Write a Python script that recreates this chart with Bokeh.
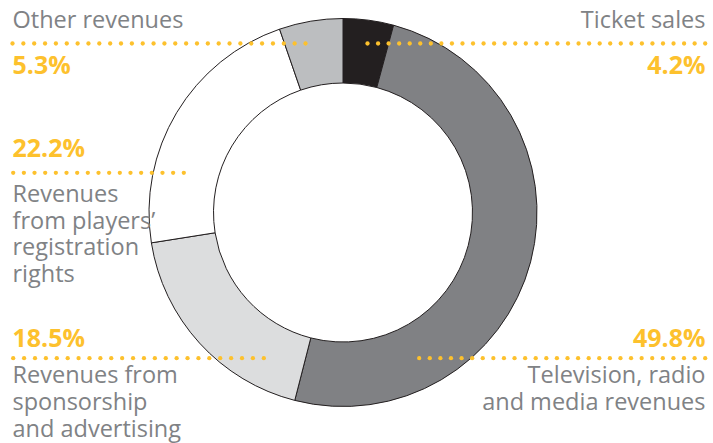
import numpy as np
from bokeh.plotting import figure
from bokeh.models import Range1d, ColumnDataSource
from bokeh.core.properties import value
from bokeh.embed import file_html
from bokeh.resources import INLINE

# ---- data (clockwise from 12 o'clock) ----
categories = ["Ticket sales", "Television, radio and media revenues",
              "Revenues from sponsorship and advertising",
              "Revenues from players' registration rights", "Other revenues"]
shares = [4.2, 49.8, 18.5, 22.2, 5.3]
colors = ["#231f20", "#808184", "#dcddde", "#ffffff", "#bcbec0"]
label_lines = [["Ticket sales"],
               ["Television, radio", "and media revenues"],
               ["Revenues from", "sponsorship", "and advertising"],
               ["Revenues", "from players\u2019", "registration", "rights"],
               ["Other revenues"]]

W, H = 713, 443
def X(px): return px
def Y(py): return H - py

GREY = "#808285"
YEL = "#fdc12d"
FONT = "Open Sans"
LBL_SIZE, PCT_SIZE = 23.5, 25

p = figure(width=W, height=H, output_backend="svg", toolbar_location=None,
           x_axis_type=None, y_axis_type=None, min_border=0,
           x_range=Range1d(0, W), y_range=Range1d(0, H))
p.outline_line_color = None
p.grid.visible = False
p.background_fill_color = "white"

# donut
frac = np.array(shares) / sum(shares)
cum = np.concatenate([[0], np.cumsum(frac)])
start = np.pi / 2 - cum[:-1] * 2 * np.pi
end = np.pi / 2 - cum[1:] * 2 * np.pi
src = ColumnDataSource(dict(start=start, end=end, color=colors))
cx, cy = X(342.5), Y(212)
p.annular_wedge(x=cx, y=cy, inner_radius=129.5, outer_radius=194,
                start_angle="start", end_angle="end", direction="clock",
                fill_color="color", line_color="#231f20", line_width=1, source=src)

# leader dotted lines: (x0, x1, y, n_dots) in page px
leaders = [(367, 704.7, 43, 33),      # ticket
           (418.7, 704.7, 357.7, 28),  # tv
           (12.7, 263.3, 357.7, 24),   # sponsorship
           (12.7, 183.3, 172.3, 17),   # players
           (12, 305, 43, 28)]          # other
for x0, x1, y, n in leaders:
    xs = np.linspace(X(x0), X(x1), n)
    p.scatter(xs, np.full(n, Y(y)), size=4.3, color=YEL, line_color=None)

# label layout: (x, align, pct baseline, first text baseline)
layout = [(705, "right", 73, 28),
          (705, "right", 346.7, 383.3),
          (12, "left", 346.7, 383.3),
          (12, "left", 156.7, 201.7),
          (12, "left", 73, 28)]
LH = 26.7
for i, (x, align, pb, tb) in enumerate(layout):
    p.text(x=[X(x)], y=[Y(pb - 0.4 * PCT_SIZE)], text=[f"{shares[i]}%"], text_color=YEL,
           text_font=value(FONT), text_font_style="bold", text_font_size=f"{PCT_SIZE}px",
           text_align=align, text_baseline="alphabetic")
    lines = label_lines[i]
    ys = [Y(tb - 0.4 * LBL_SIZE + k * LH) for k in range(len(lines))]
    p.text(x=[X(x)] * len(lines), y=ys, text=lines, text_color=GREY,
           text_font=value(FONT), text_font_size=f"{LBL_SIZE}px",
           text_align=align, text_baseline="alphabetic")

open("out.html", "w").write(file_html(p, INLINE))
